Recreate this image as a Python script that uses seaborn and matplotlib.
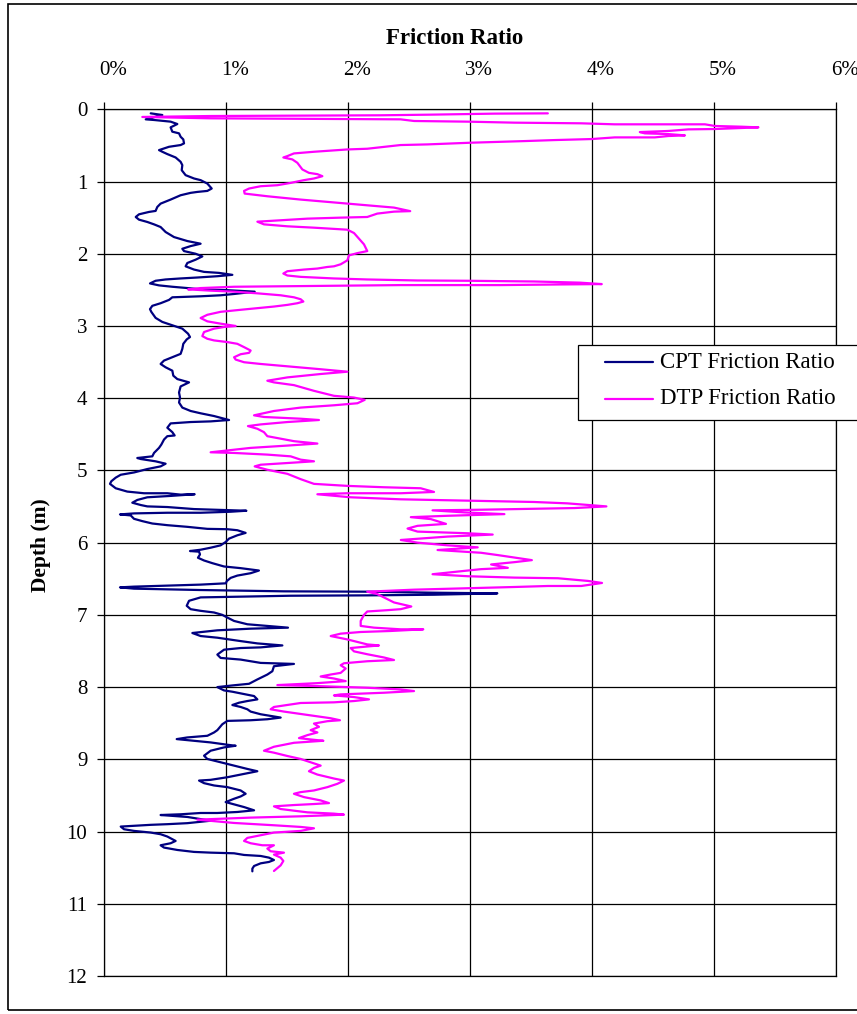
import matplotlib
matplotlib.use("Agg")
import matplotlib.pyplot as plt
import pandas as pd
import seaborn as sns
from matplotlib.lines import Line2D
from matplotlib.patches import Rectangle
from matplotlib.ticker import FuncFormatter
from matplotlib.transforms import ScaledTranslation

# (friction ratio in %, depth in m) read along each sounding, top to bottom
cpt_trace = [
    (0.383, 0.056), (0.478, 0.079), (0.342, 0.139), (0.41, 0.148), (0.546, 0.171), (0.601, 0.204),
    (0.546, 0.25), (0.56, 0.31), (0.615, 0.333), (0.628, 0.38), (0.65, 0.417), (0.656, 0.472),
    (0.628, 0.495), (0.533, 0.519), (0.451, 0.565), (0.478, 0.588), (0.519, 0.62), (0.587, 0.667),
    (0.628, 0.727), (0.642, 0.773), (0.637, 0.843), (0.669, 0.912), (0.738, 0.958), (0.792, 0.981),
    (0.847, 1.028), (0.883, 1.097), (0.847, 1.13), (0.765, 1.144), (0.71, 1.157), (0.628, 1.19),
    (0.546, 1.25), (0.464, 1.306), (0.437, 1.352), (0.423, 1.407), (0.369, 1.421), (0.287, 1.454),
    (0.26, 1.491), (0.287, 1.528), (0.355, 1.56), (0.41, 1.593), (0.464, 1.63), (0.505, 1.699),
    (0.574, 1.769), (0.683, 1.824), (0.792, 1.861), (0.71, 1.894), (0.642, 1.931), (0.656, 1.963),
    (0.751, 2.0), (0.806, 2.037), (0.751, 2.082), (0.683, 2.128), (0.669, 2.174), (0.738, 2.219),
    (0.82, 2.251), (0.943, 2.265), (1.052, 2.292), (0.929, 2.311), (0.765, 2.329), (0.628, 2.342),
    (0.505, 2.356), (0.423, 2.374), (0.377, 2.411), (0.451, 2.438), (0.56, 2.457), (0.683, 2.475),
    (0.792, 2.493), (0.984, 2.502), (1.235, 2.525), (1.066, 2.557), (0.956, 2.575), (0.792, 2.589),
    (0.56, 2.603), (0.533, 2.639), (0.464, 2.685), (0.396, 2.721), (0.377, 2.767), (0.388, 2.805),
    (0.423, 2.888), (0.478, 2.944), (0.56, 2.991), (0.642, 3.037), (0.689, 3.107), (0.705, 3.153),
    (0.678, 3.186), (0.65, 3.247), (0.642, 3.316), (0.628, 3.386), (0.56, 3.433), (0.492, 3.479),
    (0.464, 3.526), (0.505, 3.572), (0.56, 3.619), (0.568, 3.688), (0.601, 3.735), (0.697, 3.781),
    (0.628, 3.837), (0.615, 3.921), (0.623, 3.991), (0.615, 4.06), (0.642, 4.13), (0.71, 4.177),
    (0.792, 4.209), (0.902, 4.247), (0.984, 4.284), (1.025, 4.302), (0.874, 4.321), (0.71, 4.33),
    (0.546, 4.349), (0.519, 4.409), (0.56, 4.47), (0.579, 4.516), (0.519, 4.526), (0.492, 4.572),
    (0.47, 4.642), (0.451, 4.688), (0.41, 4.758), (0.396, 4.805), (0.273, 4.828), (0.301, 4.842),
    (0.423, 4.874), (0.505, 4.907), (0.464, 4.944), (0.355, 4.981), (0.246, 5.028), (0.137, 5.06),
    (0.096, 5.1), (0.06, 5.15), (0.049, 5.186), (0.096, 5.247), (0.191, 5.293), (0.328, 5.316),
    (0.519, 5.316), (0.628, 5.335), (0.743, 5.33), (0.546, 5.353), (0.355, 5.372), (0.273, 5.409),
    (0.232, 5.447), (0.301, 5.479), (0.355, 5.498), (0.519, 5.507), (0.738, 5.535), (1.011, 5.549),
    (1.167, 5.558), (1.038, 5.572), (0.792, 5.586), (0.519, 5.586), (0.246, 5.595), (0.131, 5.609),
    (0.219, 5.623), (0.246, 5.67), (0.314, 5.702), (0.396, 5.735), (0.519, 5.758), (0.683, 5.781),
    (0.847, 5.809), (1.011, 5.814), (1.093, 5.828), (1.161, 5.865), (1.093, 5.898), (1.025, 5.944),
    (0.997, 5.991), (0.956, 6.037), (0.874, 6.07), (0.792, 6.098), (0.705, 6.116), (0.779, 6.125),
    (0.787, 6.163), (0.77, 6.209), (0.82, 6.247), (0.888, 6.284), (0.984, 6.33), (1.12, 6.353),
    (1.27, 6.386), (1.202, 6.423), (1.093, 6.456), (1.038, 6.488), (1.005, 6.535), (1.0, 6.563),
    (0.792, 6.581), (0.519, 6.595), (0.246, 6.609), (0.131, 6.619), (0.246, 6.637), (0.792, 6.656),
    (1.475, 6.674), (2.158, 6.679), (2.705, 6.693), (3.224, 6.702), (2.705, 6.721), (2.158, 6.73),
    (1.53, 6.735), (1.066, 6.749), (0.792, 6.758), (0.697, 6.805), (0.678, 6.874), (0.71, 6.921),
    (0.792, 6.944), (0.902, 6.967), (0.97, 7.0), (1.011, 7.037), (1.066, 7.084), (1.175, 7.13),
    (1.339, 7.153), (1.508, 7.177), (1.202, 7.191), (0.929, 7.214), (0.724, 7.251), (0.792, 7.293),
    (0.929, 7.316), (1.12, 7.363), (1.257, 7.395), (1.462, 7.423), (1.284, 7.45), (1.12, 7.459),
    (0.984, 7.482), (0.929, 7.55), (0.956, 7.596), (1.12, 7.619), (1.284, 7.665), (1.557, 7.679),
    (1.393, 7.711), (1.38, 7.78), (1.339, 7.826), (1.257, 7.894), (1.189, 7.954), (1.052, 7.977),
    (0.929, 8.0), (0.984, 8.046), (1.052, 8.064), (1.134, 8.092), (1.23, 8.124), (1.257, 8.17),
    (1.175, 8.193), (1.107, 8.216), (1.052, 8.248), (1.12, 8.275), (1.175, 8.307), (1.202, 8.339),
    (1.284, 8.376), (1.366, 8.399), (1.448, 8.422), (1.339, 8.445), (1.202, 8.459), (1.011, 8.468),
    (0.97, 8.514), (0.929, 8.596), (0.902, 8.628), (0.847, 8.674), (0.683, 8.697), (0.596, 8.72),
    (0.738, 8.743), (0.874, 8.766), (1.011, 8.798), (1.079, 8.812), (0.984, 8.835), (0.874, 8.881),
    (0.82, 8.95), (0.847, 8.995), (0.956, 9.041), (1.066, 9.087), (1.175, 9.133), (1.257, 9.165),
    (1.12, 9.211), (1.011, 9.248), (0.874, 9.284), (0.779, 9.294), (0.82, 9.33), (0.902, 9.362),
    (1.011, 9.385), (1.066, 9.408), (1.12, 9.431), (1.161, 9.477), (1.12, 9.514), (1.066, 9.546),
    (0.997, 9.592), (1.066, 9.624), (1.148, 9.661), (1.23, 9.706), (1.093, 9.729), (0.929, 9.743),
    (0.792, 9.743), (0.628, 9.761), (0.464, 9.771), (0.683, 9.798), (0.874, 9.85), (0.683, 9.884),
    (0.519, 9.898), (0.383, 9.907), (0.246, 9.921), (0.137, 9.931), (0.164, 9.968), (0.246, 9.991),
    (0.383, 10.014), (0.464, 10.037), (0.519, 10.069), (0.587, 10.13), (0.546, 10.162), (0.464, 10.19),
    (0.492, 10.222), (0.601, 10.255), (0.738, 10.282), (0.874, 10.292), (1.066, 10.301), (1.148, 10.324),
    (1.284, 10.338), (1.352, 10.361), (1.393, 10.394), (1.352, 10.421), (1.284, 10.44), (1.23, 10.477),
    (1.216, 10.514), (1.216, 10.551),
]

dtp_trace = [
    (3.638, 0.056), (3.2, 0.06), (2.68, 0.074), (2.268, 0.083), (0.874, 0.093), (0.314, 0.106),
    (0.874, 0.125), (2.43, 0.139), (2.542, 0.162), (2.981, 0.171), (3.364, 0.185), (3.912, 0.194),
    (4.186, 0.208), (4.926, 0.208), (5.008, 0.231), (5.227, 0.241), (5.364, 0.25), (5.008, 0.273),
    (4.789, 0.278), (4.625, 0.3), (4.392, 0.315), (4.433, 0.333), (4.625, 0.343), (4.762, 0.361),
    (4.625, 0.37), (4.515, 0.389), (4.186, 0.389), (3.995, 0.412), (3.693, 0.426), (3.447, 0.44),
    (3.0, 0.463), (2.652, 0.486), (2.43, 0.495), (2.158, 0.546), (1.995, 0.556), (1.721, 0.588),
    (1.557, 0.611), (1.503, 0.648), (1.47, 0.667), (1.544, 0.694), (1.585, 0.741), (1.626, 0.833),
    (1.68, 0.88), (1.749, 0.898), (1.79, 0.926), (1.721, 0.958), (1.639, 0.981), (1.53, 1.019),
    (1.421, 1.051), (1.284, 1.065), (1.189, 1.097), (1.148, 1.13), (1.153, 1.167), (1.339, 1.204),
    (1.612, 1.25), (1.995, 1.306), (2.377, 1.361), (2.51, 1.41), (2.377, 1.417), (2.24, 1.444),
    (2.158, 1.491), (1.94, 1.5), (1.667, 1.514), (1.448, 1.537), (1.257, 1.556), (1.311, 1.593),
    (1.503, 1.62), (1.721, 1.639), (1.995, 1.667), (2.049, 1.713), (2.09, 1.792), (2.131, 1.87),
    (2.158, 1.963), (2.077, 1.991), (2.008, 2.023), (1.995, 2.091), (1.94, 2.146), (1.885, 2.174),
    (1.831, 2.183), (1.749, 2.205), (1.639, 2.219), (1.503, 2.242), (1.47, 2.274), (1.503, 2.301),
    (1.612, 2.32), (1.885, 2.342), (2.158, 2.356), (2.568, 2.37), (2.978, 2.374), (3.525, 2.384),
    (3.9, 2.4), (4.08, 2.42), (3.743, 2.425), (3.251, 2.434), (2.432, 2.434), (1.612, 2.447),
    (1.066, 2.457), (0.792, 2.475), (0.689, 2.493), (0.874, 2.511), (1.066, 2.525), (1.257, 2.548),
    (1.448, 2.575), (1.557, 2.603), (1.612, 2.63), (1.634, 2.662), (1.585, 2.685), (1.503, 2.708),
    (1.393, 2.731), (1.257, 2.753), (1.12, 2.776), (0.956, 2.804), (0.847, 2.845), (0.792, 2.89),
    (0.847, 2.936), (0.956, 2.968), (1.079, 3.0), (0.984, 3.014), (0.902, 3.037), (0.82, 3.084),
    (0.806, 3.14), (0.847, 3.177), (0.902, 3.2), (1.011, 3.223), (1.093, 3.247), (1.148, 3.293),
    (1.202, 3.34), (1.189, 3.372), (1.12, 3.391), (1.066, 3.433), (1.079, 3.465), (1.148, 3.502),
    (1.284, 3.526), (1.503, 3.558), (1.749, 3.595), (1.995, 3.633), (1.776, 3.665), (1.503, 3.712),
    (1.339, 3.758), (1.393, 3.781), (1.557, 3.819), (1.721, 3.898), (1.885, 3.967), (2.049, 3.991),
    (2.137, 4.023), (2.077, 4.07), (1.885, 4.098), (1.612, 4.13), (1.393, 4.177), (1.23, 4.237),
    (1.311, 4.26), (1.612, 4.284), (1.762, 4.302), (1.503, 4.33), (1.284, 4.363), (1.18, 4.386),
    (1.257, 4.423), (1.311, 4.47), (1.339, 4.526), (1.557, 4.595), (1.749, 4.628), (1.503, 4.656),
    (1.202, 4.688), (0.874, 4.749), (1.066, 4.758), (1.339, 4.781), (1.53, 4.805), (1.612, 4.851),
    (1.721, 4.874), (1.503, 4.898), (1.284, 4.921), (1.235, 4.944), (1.339, 4.991), (1.503, 5.047),
    (1.612, 5.121), (1.721, 5.186), (1.995, 5.214), (2.295, 5.233), (2.596, 5.247), (2.705, 5.298),
    (2.432, 5.316), (1.995, 5.316), (1.749, 5.33), (2.022, 5.372), (2.432, 5.4), (2.978, 5.419),
    (3.525, 5.437), (3.798, 5.456), (4.118, 5.498), (3.858, 5.521), (3.09, 5.544), (2.693, 5.553),
    (2.953, 5.581), (3.282, 5.605), (2.816, 5.628), (2.515, 5.647), (2.679, 5.674), (2.803, 5.74),
    (2.57, 5.767), (2.488, 5.805), (2.57, 5.847), (2.981, 5.87), (3.186, 5.888), (2.816, 5.916),
    (2.433, 5.963), (2.57, 6.0), (2.816, 6.037), (3.063, 6.065), (2.734, 6.102), (3.09, 6.14),
    (3.227, 6.172), (3.419, 6.219), (3.507, 6.242), (3.364, 6.27), (3.173, 6.302), (3.31, 6.349),
    (3.09, 6.367), (2.693, 6.437), (2.981, 6.465), (3.364, 6.484), (3.721, 6.493), (3.967, 6.53),
    (4.082, 6.558), (3.912, 6.6), (3.638, 6.6), (3.364, 6.614), (2.953, 6.633), (2.542, 6.651),
    (2.268, 6.67), (2.158, 6.679), (2.24, 6.712), (2.295, 6.758), (2.377, 6.828), (2.519, 6.884),
    (2.432, 6.921), (2.322, 6.935), (2.158, 6.953), (2.131, 7.0), (2.104, 7.084), (2.104, 7.153),
    (2.213, 7.177), (2.432, 7.2), (2.617, 7.2), (2.35, 7.223), (2.104, 7.237), (1.94, 7.26),
    (1.858, 7.293), (1.995, 7.34), (2.158, 7.409), (2.254, 7.423), (2.022, 7.459), (2.049, 7.505),
    (2.158, 7.545), (2.295, 7.59), (2.377, 7.625), (2.158, 7.642), (1.967, 7.67), (1.94, 7.697),
    (1.981, 7.743), (1.94, 7.803), (1.858, 7.826), (1.776, 7.853), (1.885, 7.881), (1.981, 7.917),
    (1.749, 7.945), (1.421, 7.972), (1.749, 7.986), (2.158, 8.009), (2.432, 8.032), (2.541, 8.055),
    (2.295, 8.078), (1.94, 8.101), (1.885, 8.115), (2.049, 8.138), (2.172, 8.17), (2.049, 8.193),
    (1.885, 8.211), (1.612, 8.22), (1.393, 8.275), (1.366, 8.307), (1.475, 8.339), (1.667, 8.385),
    (1.858, 8.431), (1.934, 8.459), (1.831, 8.472), (1.721, 8.505), (1.762, 8.55), (1.694, 8.596),
    (1.749, 8.628), (1.667, 8.665), (1.598, 8.706), (1.694, 8.725), (1.798, 8.743), (1.557, 8.771),
    (1.393, 8.826), (1.311, 8.881), (1.393, 8.908), (1.503, 8.954), (1.612, 8.995), (1.694, 9.041),
    (1.776, 9.087), (1.721, 9.119), (1.68, 9.165), (1.749, 9.211), (1.885, 9.266), (1.967, 9.294),
    (1.913, 9.339), (1.831, 9.385), (1.721, 9.431), (1.612, 9.454), (1.557, 9.477), (1.639, 9.523),
    (1.776, 9.569), (1.844, 9.606), (1.721, 9.619), (1.557, 9.633), (1.393, 9.651), (1.448, 9.688),
    (1.667, 9.734), (1.885, 9.752), (1.967, 9.766), (1.612, 9.789), (1.202, 9.807), (0.765, 9.835),
    (1.066, 9.881), (1.393, 9.913), (1.612, 9.936), (1.721, 9.955), (1.612, 9.991), (1.393, 10.014),
    (1.284, 10.051), (1.175, 10.088), (1.148, 10.13), (1.202, 10.162), (1.298, 10.19), (1.393, 10.19),
    (1.339, 10.236), (1.366, 10.273), (1.475, 10.292), (1.393, 10.319), (1.448, 10.361), (1.47, 10.407),
    (1.448, 10.468), (1.393, 10.546),
]

series_names = ["CPT Friction Ratio", "DTP Friction Ratio"]
series_colors = ["#000080", "#FF00FF"]
x_ticks = [0, 1, 2, 3, 4, 5, 6]
y_ticks = list(range(0, 13))

frames = []
for name, trace in zip(series_names, [cpt_trace, dtp_trace]):
    df = pd.DataFrame(trace, columns=["ratio", "depth"])
    df["series"] = name
    frames.append(df)
data = pd.concat(frames, ignore_index=True)

sns.set_theme(style="white")
plt.rcParams["font.family"] = ["Liberation Serif", "DejaVu Serif"]
plt.rcParams.update({"text.color": "black", "axes.labelcolor": "black",
                     "xtick.color": "black", "ytick.color": "black"})

W, H = 857, 1014
fig = plt.figure(figsize=(W / 100, H / 100), dpi=100)
ax = fig.add_axes([104 / W, 1 - 976 / H, (836 - 104) / W, (976 - 109.3) / H])

palette = dict(zip(series_names, series_colors))
sns.lineplot(data=data, x="ratio", y="depth", hue="series", hue_order=series_names,
             palette=palette, sort=False, estimator=None, linewidth=1.6, ax=ax, legend=False)

ax.set_xlim(0, 6)
ax.set_ylim(12, 0)
ax.set_xticks(x_ticks)
ax.set_yticks(y_ticks)
ax.xaxis.set_major_formatter(FuncFormatter(lambda v, _: f"{v:.0f}%"))
ax.xaxis.tick_top()
ax.xaxis.set_label_position("top")
ax.grid(True, color="black", linewidth=0.9)
for side in ax.spines.values():
    side.set_color("black")
    side.set_linewidth(0.9)
ax.tick_params(axis="x", direction="out", length=5, width=0.9, color="black", labelcolor="black",
               labelsize=15, pad=16, top=True, bottom=False)
ax.tick_params(axis="y", direction="out", length=5, width=0.9, color="black", labelcolor="black",
               labelsize=15, pad=7, left=True)

# percent labels sit a little to the right of their tick marks
shift = ScaledTranslation(9 / 100, 0, fig.dpi_scale_trans)
for lbl in ax.get_xticklabels():
    lbl.set_transform(lbl.get_transform() + shift)

ax.set_xlabel("Friction Ratio", fontsize=16.5, fontweight="bold", color="black")
ax.xaxis.set_label_coords((455 - 104) / 732, 1 + (109.3 - 39) / 866.7)
ax.xaxis.label.set_verticalalignment("center")
ax.set_ylabel("Depth (m)", fontsize=15.5, fontweight="bold", color="black")
ax.yaxis.set_label_coords((41 - 104) / 732, 1 - (545 - 109.3) / 866.7)
ax.yaxis.label.set_verticalalignment("center")

# legend box, partly outside the plotting area on the right
fig.add_artist(Rectangle((578 / W, 1 - 420 / H), 282 / W, 75 / H, transform=fig.transFigure,
                         facecolor="white", edgecolor="black", linewidth=0.9, zorder=5))
for row_y, name in zip([362, 399], series_names):
    fig.add_artist(Line2D([605 / W, 653 / W], [1 - row_y / H] * 2, transform=fig.transFigure,
                          color=palette[name], linewidth=1.6, zorder=6))
    fig.text(660 / W, 1 - row_y / H, name, fontsize=16.5, ha="left", va="center",
             color="black", zorder=6)

fig.add_artist(Rectangle((8 / W, 4 / H), 860 / W, 1006 / H, transform=fig.transFigure,
                         fill=False, edgecolor="black", linewidth=1.2))

fig.savefig("out.png", dpi=100)
